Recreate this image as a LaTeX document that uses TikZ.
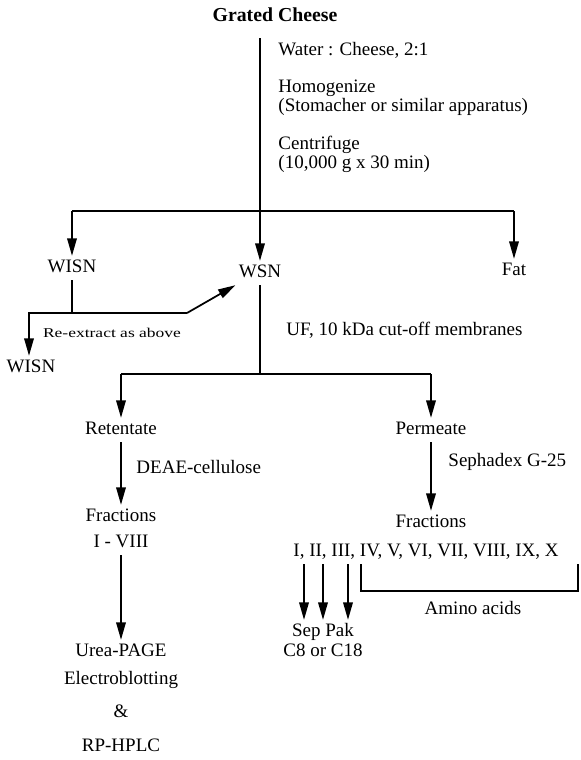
\documentclass[tikz,border=0pt]{standalone}
\usepackage{fontspec}
\setmainfont{Liberation Serif}
\newfontfamily\widefont[FakeStretch=1.3]{Liberation Serif}
\usetikzlibrary{arrows.meta}

\begin{document}
\begin{tikzpicture}[
  x=0.0222cm, y=-0.0222cm,
  every node/.style={font=\fontsize{12}{12}\selectfont, inner sep=2pt},
  lbl/.style={text height=8.5pt, text depth=2.5pt},
  note/.style={anchor=west, align=left, font=\fontsize{12}{10.7}\selectfont},
  flow/.style={line width=1.1pt},
  arr/.style={flow, -{Triangle[length=11pt, width=6pt]}},
]
\useasboundingbox (0,0) rectangle (581,760);

\node[lbl, font=\fontsize{12.5}{12.5}\selectfont\bfseries] (cheese) at (275,17) {Grated Cheese};
\coordinate (top) at (260,38);
\coordinate (split) at (260,211);
\node[lbl] (wisn) at (72,268) {WISN};
\node[lbl] (wsn) at (260,273) {WSN};
\node[lbl] (fat) at (514,271) {Fat};
\node[note] (ratio) at (275,50) {Water : Cheese, 2:1};
\node[note] (homog) at (275,98) {Homogenize\\(Stomacher or similar apparatus)};
\node[note] (centr) at (275,154) {Centrifuge\\(10,000 g x 30 min)};
\draw[flow] (top) -- (split);
\draw[flow] (split -| wisn) -- (split -| fat);
\draw[arr] (split -| wisn) -- (wisn);
\draw[arr] (split) -- (wsn);
\draw[arr] (split -| fat) -- (fat);

\coordinate (corner) at (29,313);
\coordinate (kink) at (187,313);
\node[lbl] (wisnb) at (31,368) {WISN};
\node[font=\widefont\fontsize{8.5}{8.5}\selectfont] (reext) at (112,333) {Re-extract as above};
\draw[flow] (wisn) -- (wisn |- kink);
\draw[arr] (kink) -- (wsn.south west);
\draw[arr] (kink) -- (corner) -- (corner |- wisnb.north);

\node[note] (uf) at (283,330) {UF, 10 kDa cut-off membranes};
\coordinate (split2) at (260,374);
\node[lbl] (ret) at (121,430) {Retentate};
\node[lbl] (perm) at (431,430) {Permeate};
\draw[flow] (wsn) -- (split2);
\draw[flow] (split2 -| ret) -- (split2 -| perm);
\draw[arr] (split2 -| ret) -- (ret);
\draw[arr] (split2 -| perm) -- (perm);

\node[note] (deae) at (133,467) {DEAE-cellulose};
\node[lbl] (fracl) at (121,517) {Fractions};
\node[lbl] (range) at (121,543) {I - VIII};
\node[lbl] (urea) at (121,652) {Urea-PAGE};
\node[lbl] (blot) at (121,680) {Electroblotting};
\node[lbl] (amp) at (121,713) {\&};
\node[lbl] (hplc) at (121,747) {RP-HPLC};
\draw[arr] (ret) -- (fracl);
\draw[arr] (range) -- (urea);

\node[note] (seph) at (445,462) {Sephadex G-25};
\node[lbl] (fracr) at (431,523) {Fractions};
\node[lbl, anchor=west] (romans) at (290,552) {I, II, III, IV, V, VI, VII, VIII, IX, X};
\draw[arr] (perm) -- (fracr);
\node[align=center, font=\fontsize{12}{12.6}\selectfont] (seppak) at (323,640) {Sep Pak\\C8 or C18};
\foreach \x [count=\i] in {304,323,348} {
  \coordinate (c\i) at (\x,0);
  \draw[arr] (romans.south -| c\i) -- (seppak.north -| c\i);
}
\coordinate (b1) at (361,591);
\coordinate (b2) at (578,591);
\draw[flow] (romans.south -| b1) -- (b1) -- (b2) -- (romans.south -| b2);
\node[lbl] (amino) at (473,610) {Amino acids};
\end{tikzpicture}
\end{document}
